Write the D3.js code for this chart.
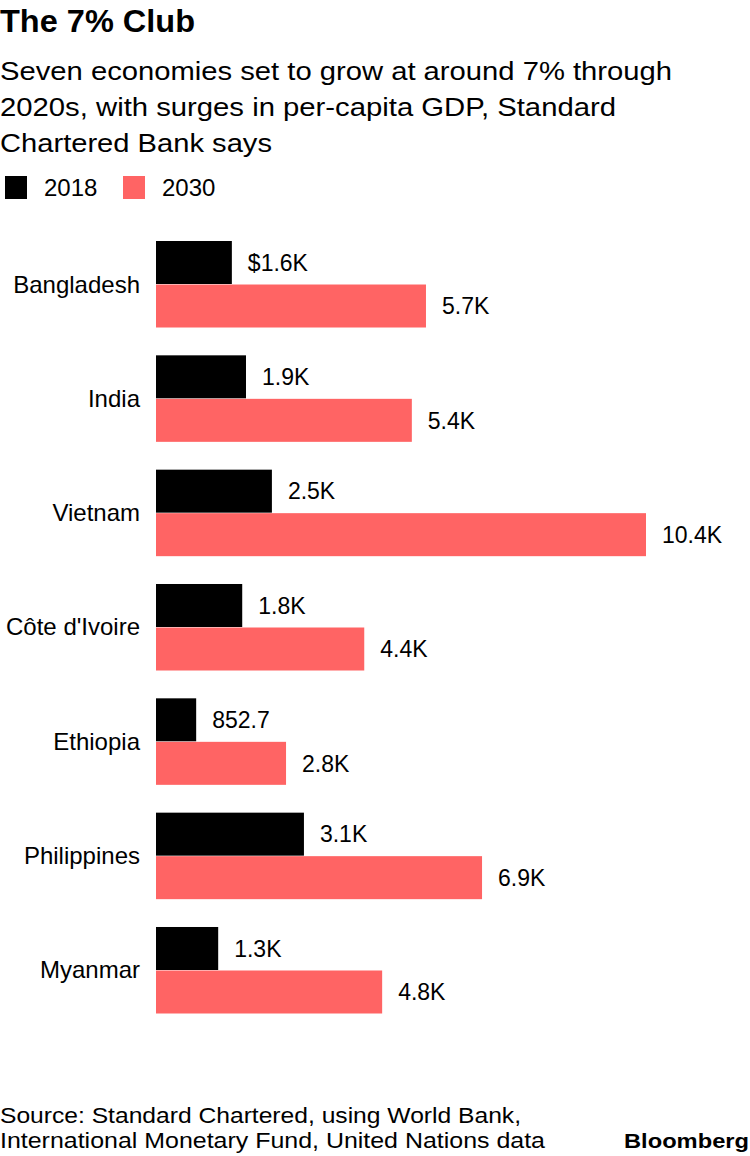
<!DOCTYPE html>
<html><head><meta charset="utf-8">
<script src="https://cdn.jsdelivr.net/npm/d3@7"></script>
<style>body{margin:0;background:#fff;} svg{display:block;font-family:"Liberation Sans",Arial,sans-serif;}</style>
</head><body>
<script>
const countries = ["Bangladesh","India","Vietnam","Côte d'Ivoire","Ethiopia","Philippines","Myanmar"];
const values2018 = [1.61, 1.91, 2.46, 1.83, 0.8527, 3.14, 1.32];
const values2030 = [5.73, 5.43, 10.4, 4.42, 2.76, 6.92, 4.80];
const labels2018 = ["$1.6K","1.9K","2.5K","1.8K","852.7","3.1K","1.3K"];
const labels2030 = ["5.7K","5.4K","10.4K","4.4K","2.8K","6.9K","4.8K"];
const seriesNames = ["2018","2030"];
const colors = ["#000000","#ff6464"];

const W=750,H=1156;
const svg=d3.select("body").append("svg").attr("width",W).attr("height",H);

svg.append("text").attr("x",0).attr("y",32).attr("font-weight","bold").attr("font-size",31)
  .attr("textLength",195).attr("lengthAdjust","spacingAndGlyphs").text("The 7% Club");
const sub=["Seven economies set to grow at around 7% through","2020s, with surges in per-capita GDP, Standard","Chartered Bank says"];
const subW=[672,616,272];
svg.selectAll(".sub").data(sub).join("text").attr("class","sub").attr("x",0).attr("y",(d,i)=>80+i*36)
  .attr("font-size",26).attr("textLength",(d,i)=>subW[i]).attr("lengthAdjust","spacingAndGlyphs").text(d=>d);

// legend
const lx=[5,123];
seriesNames.forEach((s,i)=>{
  svg.append("rect").attr("x",lx[i]).attr("y",176).attr("width",22).attr("height",23).attr("fill",colors[i]);
  svg.append("text").attr("x",lx[i]+39).attr("y",196).attr("font-size",24).text(s);
});

const x=d3.scaleLinear().domain([0,10.4]).range([156,646]);
const y=d3.scaleBand().domain(countries).range([241,1014]).paddingInner(0.239).paddingOuter(0);
const sub2=d3.scaleBand().domain(seriesNames).range([0,y.bandwidth()]).padding(0);

const g=svg.selectAll(".grp").data(countries).join("g").attr("transform",d=>`translate(0,${y(d)})`);
const rows=countries.map((c,i)=>[{s:"2018",v:values2018[i],l:labels2018[i]},{s:"2030",v:values2030[i],l:labels2030[i]}]);
g.each(function(c,i){
  const gg=d3.select(this);
  gg.selectAll("rect").data(rows[i]).join("rect")
    .attr("x",x(0)).attr("y",d=>sub2(d.s)).attr("width",d=>x(d.v)-x(0)).attr("height",sub2.bandwidth()-0.5)
    .attr("fill",(d,j)=>colors[j]);
  gg.selectAll(".val").data(rows[i]).join("text").attr("class","val")
    .attr("x",d=>x(d.v)+16).attr("y",d=>sub2(d.s)+sub2.bandwidth()/2+8).attr("font-size",23).text(d=>d.l);
  gg.append("text").attr("x",140).attr("y",y.bandwidth()/2+8).attr("text-anchor","end").attr("font-size",24).text(c);
});

svg.append("text").attr("x",0).attr("y",1123).attr("font-size",22).attr("textLength",521).attr("lengthAdjust","spacingAndGlyphs").text("Source: Standard Chartered, using World Bank,");
svg.append("text").attr("x",0).attr("y",1148).attr("font-size",22).attr("textLength",545).attr("lengthAdjust","spacingAndGlyphs").text("International Monetary Fund, United Nations data");
svg.append("text").attr("x",624).attr("y",1148).attr("font-weight","bold").attr("font-size",21).attr("textLength",125).attr("lengthAdjust","spacingAndGlyphs").text("Bloomberg");
</script>
</body></html>
